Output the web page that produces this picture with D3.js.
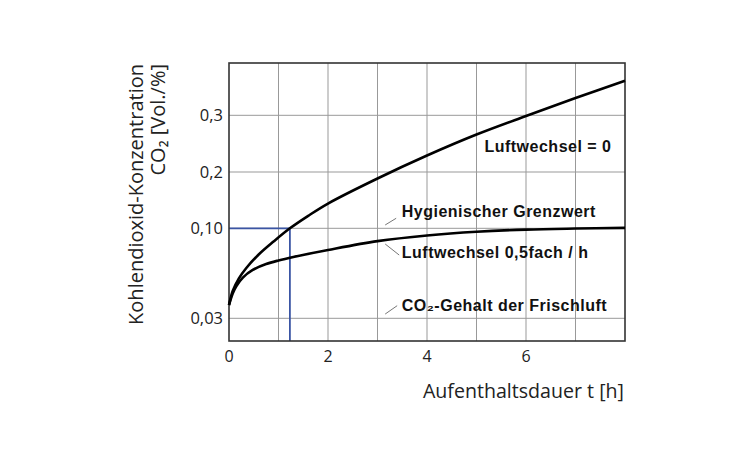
<!DOCTYPE html>
<html>
<head>
<meta charset="utf-8">
<script src="https://cdn.jsdelivr.net/npm/d3@7"></script>
<style>
  html, body { margin: 0; padding: 0; background: #fff; }
  svg { display: block; }
  .reg { font-family: "Open Sans", "Noto Sans", sans-serif; fill: #222; }
  .bold { font-family: "Liberation Sans", Arial, sans-serif; font-weight: bold; fill: #111; letter-spacing: 0.5px; }
</style>
</head>
<body>
<svg id="chart" width="750" height="459"></svg>
<script>
// ---- data ----
const xTicks = [0, 2, 4, 6];
const xGrid = [1, 2, 3, 4, 5, 6, 7];
const yTicks = [0.03, 0.10, 0.2, 0.3];
const yTickLabels = ["0,03", "0,10", "0,2", "0,3"];

// Luftwechsel = 0
const noVentT = [0, 0.075, 0.2, 0.35, 0.6, 0.9, 1.23, 1.6, 2, 3, 4, 5, 6, 7, 8];
const noVentV = [0.0403, 0.0512, 0.0610, 0.0691, 0.0796, 0.0897, 0.100, 0.1222, 0.1440, 0.1885, 0.2291, 0.2661, 0.2988, 0.3305, 0.3610];

// Luftwechsel 0,5fach / h
const halfVentT = [0, 0.075, 0.15, 0.28, 0.48, 0.75, 1.0, 1.3, 2, 3, 4, 5, 6, 7, 8];
const halfVentV = [0.0403, 0.0493, 0.0551, 0.0617, 0.0676, 0.0722, 0.0750, 0.0777, 0.0831, 0.0900, 0.0944, 0.0973, 0.0990, 0.0998, 0.1007];

// Hygienischer Grenzwert crossing
const limitValue = 0.10;
const limitTime = 1.23;

const labels = [
  {text: "Luftwechsel = 0", t: 5.16, v: 0.2358},
  {text: "Hygienischer Grenzwert", t: 3.49, v: 0.1206},
  {text: "Luftwechsel 0,5fach / h", t: 3.49, v: 0.0767},
  {text: "CO\u2082-Gehalt der Frischluft", t: 3.49, v: 0.0359}
];
const leaders = [
  {t1: 3.155, v1: 0.1059, t2: 3.377, v2: 0.1178},
  {t1: 3.155, v1: 0.0878, t2: 3.438, v2: 0.0792},
  {t1: 3.155, v1: 0.0333, t2: 3.397, v2: 0.0398}
];

// ---- layout ----
const plotL = 229, plotR = 625, plotT = 63, plotB = 341;
const svg = d3.select("#chart");
svg.append("rect").attr("width", 750).attr("height", 459).attr("fill", "#fff");

const x = d3.scaleLinear().domain([0, 8]).range([plotL, plotR]);
const y = d3.scaleLinear().domain([0.03, 0.10, 0.2, 0.3]).range([318.3, 228.3, 172, 115.3]);

// grid
const g = svg.append("g");
g.selectAll("line.vg").data(xGrid).enter().append("line")
  .attr("x1", d => x(d)).attr("x2", d => x(d))
  .attr("y1", plotT).attr("y2", plotB)
  .attr("stroke", "#999").attr("stroke-width", 1);
g.selectAll("line.hg").data(yTicks).enter().append("line")
  .attr("x1", plotL).attr("x2", plotR)
  .attr("y1", d => y(d)).attr("y2", d => y(d))
  .attr("stroke", "#999").attr("stroke-width", 1);

// blue limit lines
svg.append("line")
  .attr("x1", x(0)).attr("x2", x(limitTime))
  .attr("y1", y(limitValue)).attr("y2", y(limitValue))
  .attr("stroke", "#3a55a4").attr("stroke-width", 1.8);
svg.append("line")
  .attr("x1", x(limitTime)).attr("x2", x(limitTime))
  .attr("y1", y(limitValue)).attr("y2", plotB)
  .attr("stroke", "#3a55a4").attr("stroke-width", 1.8);

// frame
svg.append("rect")
  .attr("x", plotL).attr("y", plotT)
  .attr("width", plotR - plotL).attr("height", plotB - plotT)
  .attr("fill", "none").attr("stroke", "#333").attr("stroke-width", 1.6);

// curves
const line = d3.line().x(d => x(d[0])).y(d => y(d[1])).curve(d3.curveCatmullRom.alpha(0.5));
svg.append("path").datum(noVentT.map((t, i) => [t, noVentV[i]]))
  .attr("d", line).attr("fill", "none").attr("stroke", "#000").attr("stroke-width", 2.6);
svg.append("path").datum(halfVentT.map((t, i) => [t, halfVentV[i]]))
  .attr("d", line).attr("fill", "none").attr("stroke", "#000").attr("stroke-width", 2.6);

// tick labels
svg.selectAll("text.xt").data(xTicks).enter().append("text")
  .attr("class", "reg").attr("x", d => x(d)).attr("y", 362)
  .attr("text-anchor", "middle").attr("font-size", 16).text(d => d);
svg.selectAll("text.yt").data(yTicks).enter().append("text")
  .attr("class", "reg").attr("x", 223).attr("y", d => y(d))
  .attr("dy", "0.35em").attr("text-anchor", "end").attr("font-size", 16.5)
  .text((d, i) => yTickLabels[i]);

// axis titles
svg.append("text").attr("class", "reg").attr("font-size", 19.6)
  .attr("x", 624).attr("y", 398).attr("text-anchor", "end")
  .text("Aufenthaltsdauer t [h]");
svg.append("text").attr("class", "reg").attr("font-size", 20)
  .attr("text-anchor", "end")
  .attr("transform", "translate(143,64) rotate(-90)")
  .text("Kohlendioxid-Konzentration");
svg.append("text").attr("class", "reg").attr("font-size", 20)
  .attr("text-anchor", "end")
  .attr("transform", "translate(165,64) rotate(-90)")
  .text("CO\u2082 [Vol./%]");

// annotations
svg.selectAll("text.lab").data(labels).enter().append("text")
  .attr("class", "bold").attr("font-size", 16)
  .attr("x", d => x(d.t)).attr("y", d => y(d.v))
  .text(d => d.text);
svg.selectAll("line.lead").data(leaders).enter().append("line")
  .attr("x1", d => x(d.t1)).attr("y1", d => y(d.v1))
  .attr("x2", d => x(d.t2)).attr("y2", d => y(d.v2))
  .attr("stroke", "#777").attr("stroke-width", 1);
</script>
</body>
</html>
